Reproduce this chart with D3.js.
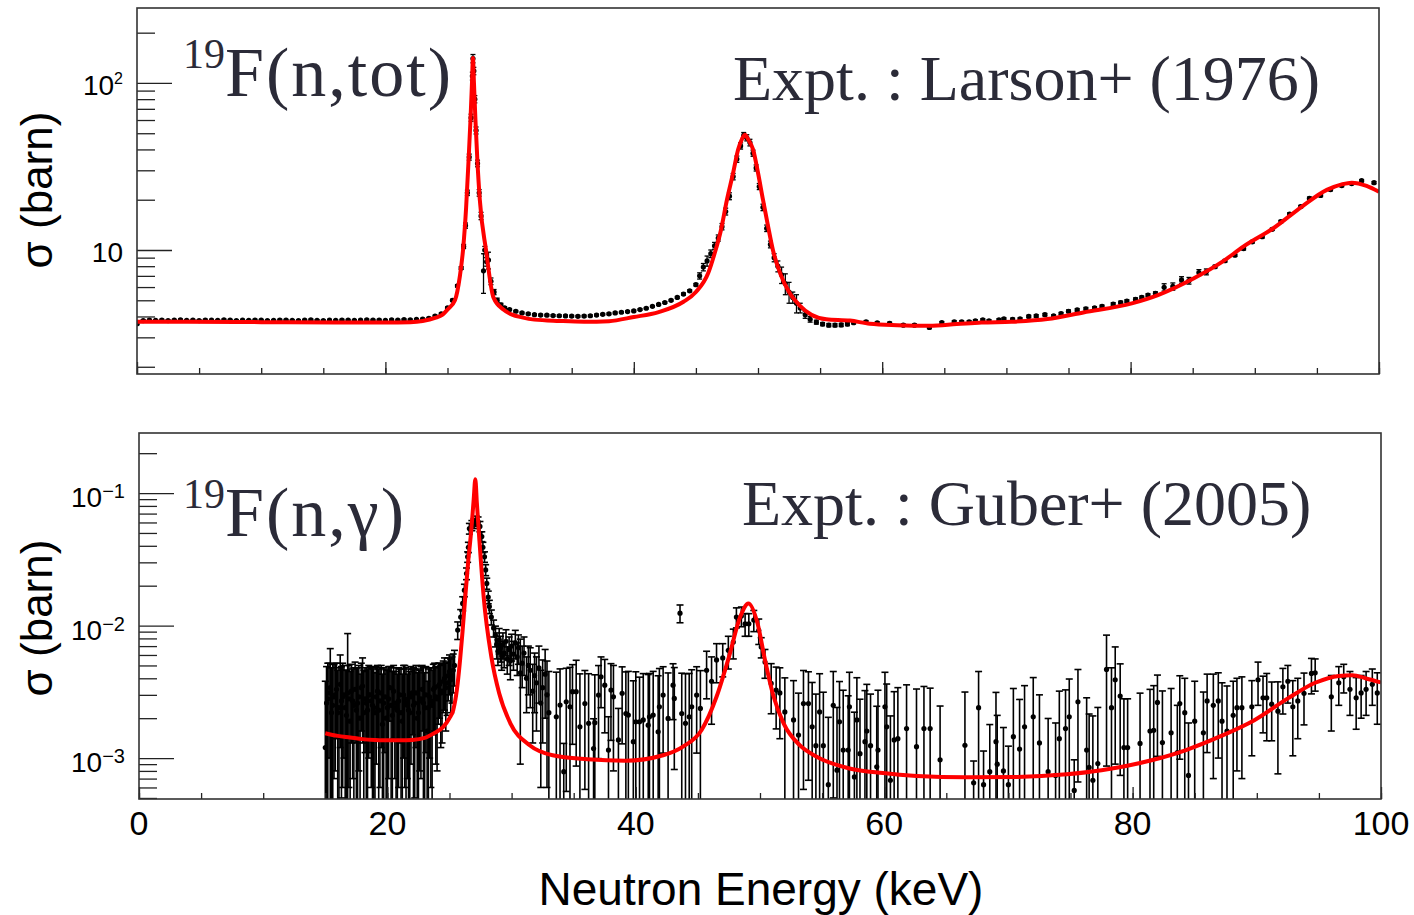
<!DOCTYPE html>
<html><head><meta charset="utf-8">
<script src="https://cdn.jsdelivr.net/npm/d3@7"></script>
<style>body{margin:0;background:#fff}</style>
</head><body>
<script>
// ---------------- DATA ----------------
// x axis
const xMajorTicks = [0, 20, 40, 60, 80, 100];
const xMinorTicks = [0,5,10,15,20,25,30,35,40,45,50,55,60,65,70,75,80,85,90,95,100];
const xTickLabels = ["0", "20", "40", "60", "80", "100"];

// top panel: 19F(n,tot)  Larson+ (1976)
const topExpE = [0,0.5,1,1.5,2,2.5,3,3.5,4,4.5,5,5.5,6,6.5,7,7.5,8,8.5,9,9.5,10,10.5,11,11.5,12,12.5,13,13.5,14,14.5,15,15.5,16,16.5,17,17.5,18,18.5,19,19.5,20,20.5,21,21.5,22,22.5,23,23.5,24,
 24.5,25.0,25.4,25.8,26.1,26.3,26.45,26.6,26.75,26.9,27.0,27.05,27.12,27.2,27.3,27.42,27.55,27.7,27.9,28.0,28.15,28.3,28.5,28.75,29.0,29.3,29.6,30.0,
 30.5,31,31.5,32,32.5,33,33.5,34,34.5,35,35.5,36,36.5,37,37.5,38,38.5,39,39.5,40,40.5,41,41.5,42,42.5,43,43.5,44,44.5,45,
 45.3,45.6,45.9,46.2,46.5,46.8,47.1,47.4,47.7,48.0,48.3,48.6,48.85,49.1,49.35,49.6,49.85,50.1,
 50.4,50.7,51.0,51.3,51.6,51.9,52.2,52.5,52.8,53.1,53.4,53.8,54.2,54.7,55.2,55.7,56.2,56.7,57.2,
 57.7,58.7,59.6,60.6,61.7,62.6,63.8,64.8,65.8,66.4,67.0,67.5,68.1,68.6,69.4,69.8,70.5,71.1,71.8,72.4,
 73.1,73.8,74.4,75.0,75.7,76.4,77.1,77.7,78.6,79.2,79.7,80.4,80.9,81.4,82.0,82.7,83.4,84.1,84.7,85.5,
 86.1,86.8,87.6,88.4,89.1,89.8,90.6,91.4,92.1,92.8,93.7,94.4,95.3,96.1,97.0,97.8,98.6,99.6];
const topExpSig = [3.62,3.78,3.80,3.79,3.81,3.78,3.80,3.82,3.79,3.80,3.78,3.81,3.80,3.79,3.82,3.80,3.78,3.80,3.79,3.81,3.80,3.78,3.79,3.81,3.80,3.79,3.78,3.80,3.82,3.79,3.78,3.80,3.79,3.81,3.80,3.79,3.80,3.82,3.80,3.81,3.79,3.82,3.80,3.83,3.82,3.84,3.86,3.90,4.02,
 4.15,4.5,5.0,6.1,7.8,10.5,14,22,36,62,110,140,118,80,52,33,22,16,7.5,10,8.5,8.7,6.5,5.6,5.0,4.7,4.5,4.4,
 4.3,4.2,4.15,4.1,4.08,4.07,4.05,4.04,4.03,4.02,4.01,4.02,4.04,4.08,4.12,4.15,4.2,4.24,4.28,4.32,4.4,4.48,4.6,4.72,4.85,5.0,5.2,5.45,5.7,6.2,
 7.0,7.9,8.6,9.5,10.6,11.8,13.8,17,21,27.5,35,42,48.5,47,44,38,31,24,
 18,13.5,10.8,9.0,8.0,7.1,6.3,5.6,5.2,4.8,4.5,4.1,3.85,3.7,3.6,3.55,3.55,3.56,3.6,
 3.67,3.72,3.66,3.64,3.55,3.55,3.44,3.67,3.72,3.72,3.72,3.77,3.82,3.77,3.82,3.87,3.85,3.87,4.0,4.03,
 4.1,4.03,4.16,4.3,4.38,4.45,4.5,4.6,4.75,4.85,4.95,5.07,5.2,5.37,5.5,5.98,6.05,6.62,6.55,7.33,
 7.4,7.95,8.62,9.3,10.2,11.2,12.0,13.3,14.8,16.4,18.2,20.4,21.2,23.0,24.3,25.0,26.0,25.3];
const topExpErr = [0.05,0.04,0.04,0.04,0.04,0.04,0.04,0.04,0.04,0.04,0.04,0.04,0.04,0.04,0.04,0.04,0.04,0.04,0.04,0.04,0.04,0.04,0.04,0.04,0.04,0.04,0.04,0.04,0.04,0.04,0.04,0.04,0.04,0.04,0.04,0.04,0.04,0.04,0.04,0.04,0.04,0.04,0.04,0.04,0.04,0.04,0.04,0.05,0.05,
 0.05,0.06,0.07,0.1,0.15,0.3,0.5,0.8,1.5,3,6,8,6,4,2.5,1.5,1,0.8,2.0,0.5,0.5,1.0,0.3,0.2,0.15,0.1,0.08,0.06,
 0.05,0.05,0.05,0.05,0.05,0.05,0.05,0.05,0.05,0.05,0.05,0.05,0.05,0.05,0.05,0.05,0.05,0.05,0.05,0.05,0.05,0.05,0.05,0.06,0.06,0.06,0.07,0.08,0.08,0.1,
 0.3,0.4,0.6,0.5,0.5,0.5,0.6,0.8,1,1.2,1.5,1.8,2,2,2,1.6,1.3,1,
 0.8,0.6,0.5,0.5,0.6,0.8,0.9,0.8,0.4,0.6,0.3,0.2,0.15,0.1,0.08,0.08,0.08,0.08,0.08,
 0.06,0.06,0.06,0.06,0.06,0.06,0.06,0.06,0.06,0.06,0.06,0.06,0.06,0.06,0.06,0.06,0.06,0.06,0.07,0.07,
 0.07,0.07,0.07,0.08,0.08,0.08,0.08,0.08,0.09,0.09,0.09,0.1,0.1,0.1,0.12,0.3,0.3,0.3,0.3,0.3,
 0.3,0.15,0.15,0.15,0.2,0.2,0.2,0.2,0.25,0.3,0.3,0.35,0.35,0.4,0.4,0.4,0.4,0.4];
const topFitE = [0,4,8,12,16,20,22,23,24,24.6,25.0,25.6,26.0,26.25,26.5,26.7,26.85,26.97,27.05,27.13,27.25,27.4,27.6,28.1,28.7,29.5,30.2,31,32,34,36,38,40,42,44,45,46,46.5,47,47.5,48,48.4,48.7,48.95,49.2,49.6,50.0,50.4,50.8,51.2,51.8,52.5,53.3,54.3,55.5,57.4,59,61.2,63.8,66,68,70.4,73.3,76.2,80.1,82.2,85.1,87.4,89.1,91.5,93.8,95.8,97,97.8,99.0,100];
const topFitSig = [3.72,3.72,3.71,3.69,3.68,3.68,3.70,3.76,3.92,4.1,4.4,5.0,7.0,10,18,35,60,100,141,100,60,35,20,10,5.2,4.4,4.1,3.95,3.83,3.76,3.72,3.75,3.97,4.25,4.9,5.6,7.3,9.5,13,20,29,40,46,49,46,40,29,20,14,10,7.2,5.6,4.7,4.1,3.85,3.78,3.62,3.55,3.52,3.6,3.68,3.72,3.86,4.23,4.79,5.37,6.77,8.51,10.5,13.5,18.2,22.9,24.7,25.3,24.2,22.3];

// bottom panel: 19F(n,gamma)  Guber+ (2005)
const botExpE = [15.0,15.2,15.4,15.6,15.8,16.0,16.2,16.4,16.6,16.8,17.0,17.2,17.4,17.6,17.8,18.0,18.2,18.4,18.6,18.8,19.0,19.2,19.4,19.6,19.8,20.0,20.2,20.4,20.6,20.8,21.0,21.2,21.4,21.6,21.8,22.0,22.2,22.4,22.6,22.8,23.0,23.2,23.4,23.6,23.8,24.0,24.2,24.4,24.6,24.8,25.0,25.2,25.4,
 25.66,25.9,26.06,26.2,26.37,26.46,26.52,26.6,26.8,26.98,27.15,27.3,27.45,27.6,27.69,27.82,27.91,28.0,28.12,28.21,28.37,
 28.55,28.7,28.8,28.9,29.0,29.1,29.2,29.3,29.4,29.55,29.65,29.8,29.9,30.0,30.15,30.3,30.45,30.55,30.7,30.85,31.0,31.2,31.35,31.5,31.7,31.85,32.0,32.2,32.35,32.5,32.7,32.85,33.0,
 33.6,33.9,34.2,34.4,34.7,34.9,35.2,35.5,35.9,36.2,36.6,36.7,37.0,37.2,37.5,37.8,38.0,38.2,38.6,38.9,39.2,39.4,39.8,40.0,40.3,40.6,41.0,41.1,41.4,41.8,41.9,42.2,42.6,43.0,43.1,43.56,43.7,44.0,44.3,44.5,44.9,45.2,
 45.7,46.1,46.5,47.0,47.45,47.85,48.1,48.5,48.8,49.1,49.5,49.9,
 50.1,50.4,50.9,51.3,51.6,52.0,52.7,53.1,53.5,53.9,54.2,54.5,54.8,55.1,55.5,55.9,56.2,56.4,56.7,57.1,57.2,57.6,57.8,58.05,58.45,58.6,58.9,59.4,59.5,60.06,60.2,60.5,60.8,61.1,61.8,62.6,63.2,63.7,64.5,66.5,67.2,67.6,68.0,68.5,69.0,69.1,69.6,70.0,70.4,70.9,71.3,72.0,72.5,73.2,73.8,74.1,74.6,74.9,75.3,75.6,76.3,76.5,76.8,77.2,
 77.9,78.3,78.6,79.0,79.3,79.6,80.6,81.4,81.7,82.0,82.4,83.1,83.6,83.8,84.2,84.5,85.0,85.7,86.0,86.5,86.9,87.2,87.6,88.1,88.4,88.8,89.6,90.1,90.5,90.8,91.2,91.7,92.1,92.5,92.9,93.3,93.8,94.4,94.7,96.0,96.6,97.0,97.5,98.0,98.4,98.8,99.3,99.7,
 15.1,15.3,15.5,15.7,15.9,16.1,16.3,16.5,16.7,16.9,17.1,17.3,17.5,17.7,17.9,18.1,18.3,18.5,18.7,18.9,19.1,19.3,19.5,19.7,19.9,20.1,20.3,20.5,20.7,20.9,21.1,21.3,21.5,21.7,21.9,22.1,22.3,22.5,22.7,22.9,23.1,23.3,23.5,23.7,23.9,24.1,24.3,24.5,24.7,24.9,25.1,25.3];
const botExpSig = [1.2e-3,2.8e-3,3.4e-3,2.5e-3,3.0e-3,2.2e-3,3.6e-3,2.9e-3,2.4e-3,3.1e-3,1.9e-3,2.7e-3,3.3e-3,2.6e-3,2.0e-3,3.5e-3,2.8e-3,2.3e-3,3.0e-3,2.5e-3,2.2e-3,3.2e-3,2.7e-3,1.8e-3,2.9e-3,2.4e-3,3.4e-3,2.1e-3,2.6e-3,2.3e-3,3.0e-3,1.9e-3,2.8e-3,2.5e-3,2.2e-3,3.1e-3,2.6e-3,2.0e-3,2.7e-3,3.3e-3,2.4e-3,1.6e-3,2.9e-3,2.5e-3,3.4e-3,2.8e-3,3.6e-3,3.2e-3,4.0e-3,3.7e-3,4.5e-3,4.2e-3,5.0e-3,
 9.25e-3,0.0116,0.0147,0.0185,0.0247,0.033,0.039,0.054,0.057,0.059,0.062,0.061,0.056,0.047,0.039,0.033,0.0263,0.0208,0.0164,0.0139,0.0116,
 9.6e-3,8.4e-3,7.2e-3,6.4e-3,7.8e-3,6.8e-3,5.9e-3,7.2e-3,6.2e-3,7.6e-3,5.6e-3,6.6e-3,5.4e-3,7.0e-3,6.1e-3,7.4e-3,5.8e-3,6.8e-3,4.4e-3,5.2e-3,6.2e-3,4.0e-3,5.0e-3,4.6e-3,3.2e-3,4.2e-3,3.7e-3,4.8e-3,2.6e-3,3.4e-3,4.3e-3,3.0e-3,2.2e-3,
 2.05e-3,2.51e-3,0.79e-3,2.66e-3,2.44e-3,3.17e-3,3.17e-3,1.72e-3,2.58e-3,1.83e-3,1.18e-3,1.85e-3,2.99e-3,4.1e-3,3.55e-3,1.15e-3,3.26e-3,2.9e-3,1.37e-3,3.08e-3,2.17e-3,2.11e-3,1.33e-3,1.88e-3,1.88e-3,1.94e-3,1.77e-3,2.05e-3,2.11e-3,1.58e-3,2.44e-3,2.99e-3,1.99e-3,3.55e-3,2.82e-3,12.4e-3,2.17e-3,1.83e-3,2.05e-3,2.44e-3,2.99e-3,2.37e-3,
 4.6e-3,3.8e-3,5.5e-3,5.7e-3,6.5e-3,7.5e-3,11.6e-3,11.8e-3,10.3e-3,10.3e-3,11.0e-3,9.2e-3,
 6.9e-3,5.3e-3,3.66e-3,3.26e-3,3.1e-3,2.23e-3,1.94e-3,1.49e-3,2.58e-3,2.58e-3,1.72e-3,1.24e-3,2.23e-3,1.24e-3,0.63e-3,2.5e-3,0.81e-3,1.88e-3,1.15e-3,1.15e-3,2.44e-3,0.72e-3,1.94e-3,1.08e-3,1.33e-3,1.6e-3,1.24e-3,0.86e-3,1.15e-3,2.44e-3,1.72e-3,0.68e-3,1.37e-3,1.4e-3,1.67e-3,1.22e-3,1.67e-3,1.67e-3,0.97e-3,1.25e-3,0.65e-3,2.4e-3,0.63e-3,0.79e-3,1.33e-3,0.9e-3,0.8e-3,0.63e-3,1.45e-3,1.17e-3,1.72e-3,2.05e-3,1.3e-3,0.79e-3,0.74e-3,1.4e-3,1.67e-3,2.05e-3,0.57e-3,2.66e-3,1.15e-3,0.85e-3,0.68e-3,0.91e-3,
 4.67e-3,2.4e-3,3.9e-3,2.94e-3,1.2e-3,1.2e-3,1.29e-3,1.6e-3,1.62e-3,2.63e-3,1.31e-3,1.55e-3,1.1e-3,2.58e-3,2.2e-3,0.74e-3,1.9e-3,1.55e-3,2.7e-3,2.5e-3,2.7e-3,1.9e-3,1.6e-3,2.1e-3,2.4e-3,2.4e-3,2.44e-3,3.9e-3,2.85e-3,2.85e-3,2.55e-3,2.26e-3,3.45e-3,3.8e-3,2.44e-3,2.7e-3,3.08e-3,4.35e-3,4.4e-3,2.9e-3,3.7e-3,4.1e-3,3.3e-3,2.85e-3,3.1e-3,3.3e-3,3.6e-3,3.1e-3,
 2.6e-3,3.1e-3,2.2e-3,2.9e-3,3.3e-3,2.4e-3,2.7e-3,3.0e-3,2.1e-3,2.8e-3,3.2e-3,2.5e-3,2.3e-3,2.9e-3,3.4e-3,2.2e-3,2.6e-3,3.0e-3,2.7e-3,2.4e-3,2.9e-3,2.3e-3,3.1e-3,2.6e-3,2.0e-3,2.8e-3,2.5e-3,3.2e-3,2.4e-3,2.7e-3,2.2e-3,3.0e-3,2.6e-3,2.3e-3,2.9e-3,2.5e-3,3.1e-3,2.2e-3,2.8e-3,2.6e-3,3.0e-3,2.4e-3,2.7e-3,3.3e-3,2.9e-3,3.5e-3,3.1e-3,3.8e-3,3.4e-3,4.2e-3,3.9e-3,4.6e-3];
const botExpErr = [2.6e-3,2.4e-3,3.3e-3,2.6e-3,2.2e-3,2.4e-3,2.4e-3,2.3e-3,2.2e-3,5.6e-3,2.6e-3,2.0e-3,2.0e-3,2.2e-3,2.3e-3,2.2e-3,1.7e-3,2.4e-3,1.9e-3,2.3e-3,2.2e-3,1.8e-3,2.1e-3,2.5e-3,1.8e-3,2.2e-3,1.5e-3,2.4e-3,1.9e-3,2.0e-3,1.7e-3,2.4e-3,2.2e-3,1.8e-3,2.3e-3,1.6e-3,2.1e-3,2.4e-3,1.9e-3,1.7e-3,2.0e-3,2.2e-3,1.9e-3,2.1e-3,1.8e-3,2.0e-3,1.6e-3,1.9e-3,1.7e-3,1.6e-3,1.5e-3,1.6e-3,1.5e-3,
 1.4e-3,1.6e-3,1.8e-3,2.0e-3,2.5e-3,3e-3,3.5e-3,5e-3,5e-3,5e-3,5e-3,5e-3,5e-3,4e-3,3.5e-3,3e-3,2.5e-3,2e-3,1.8e-3,1.6e-3,1.5e-3,
 1.4e-3,1.5e-3,1.6e-3,1.4e-3,1.7e-3,1.5e-3,1.3e-3,1.6e-3,1.4e-3,1.7e-3,1.3e-3,1.6e-3,1.5e-3,1.6e-3,1.5e-3,1.8e-3,1.6e-3,1.7e-3,3.5e-3,1.8e-3,2.0e-3,1.8e-3,2.0e-3,2.2e-3,1.9e-3,2.0e-3,2.1e-3,2.2e-3,2.0e-3,2.1e-3,2.3e-3,2.4e-3,2.3e-3,
 2.4e-3,2.2e-3,0.5e-3,2.1e-3,2.4e-3,1.9e-3,2.3e-3,2.6e-3,2.0e-3,2.5e-3,0.8e-3,2.4e-3,2.0e-3,1.7e-3,2.0e-3,0.9e-3,1.9e-3,2.1e-3,1.0e-3,1.8e-3,2.3e-3,2.4e-3,2.5e-3,2.6e-3,2.2e-3,2.4e-3,2.5e-3,2.3e-3,2.4e-3,2.6e-3,2.3e-3,1.9e-3,2.4e-3,1.6e-3,2.0e-3,1.9e-3,2.2e-3,2.5e-3,2.3e-3,2.2e-3,1.9e-3,2.2e-3,
 1.8e-3,2.0e-3,1.8e-3,1.6e-3,1.8e-3,1.9e-3,2.0e-3,2.0e-3,2.0e-3,2.0e-3,2.0e-3,2.0e-3,
 1.2e-3,1.3e-3,1.5e-3,1.6e-3,1.7e-3,1.8e-3,1.9e-3,1.6e-3,2.0e-3,1.9e-3,2.0e-3,1.8e-3,2.1e-3,1.9e-3,1.4e-3,2.0e-3,1.6e-3,1.9e-3,2.1e-3,1.8e-3,2.0e-3,1.5e-3,2.1e-3,1.7e-3,1.9e-3,2.0e-3,1.8e-3,1.6e-3,2.1e-3,2.0e-3,1.9e-3,1.4e-3,1.8e-3,2.0e-3,1.9e-3,2.1e-3,1.8e-3,1.7e-3,1.5e-3,1.9e-3,0.3e-3,2.1e-3,0.5e-3,1.0e-3,1.8e-3,1.2e-3,0.9e-3,0.6e-3,1.9e-3,1.6e-3,1.8e-3,2.0e-3,1.7e-3,1.2e-3,1.1e-3,1.8e-3,1.6e-3,1.9e-3,0.4e-3,2.0e-3,1.7e-3,1.3e-3,1.4e-3,1.5e-3,
 3.8e-3,2.4e-3,3.0e-3,2.2e-3,1.6e-3,1.6e-3,1.8e-3,1.7e-3,1.9e-3,1.6e-3,1.9e-3,1.8e-3,1.4e-3,1.6e-3,1.8e-3,1.1e-3,1.9e-3,1.6e-3,1.6e-3,1.8e-3,1.7e-3,1.8e-3,1.9e-3,1.7e-3,1.6e-3,1.7e-3,1.4e-3,1.4e-3,1.3e-3,1.5e-3,1.2e-3,1.5e-3,1.3e-3,1.2e-3,1.4e-3,1.3e-3,1.3e-3,1.3e-3,1.2e-3,1.3e-3,1.2e-3,1.0e-3,1.2e-3,1.2e-3,1.1e-3,1.2e-3,1.1e-3,1.3e-3,
 2.3e-3,2.1e-3,2.6e-3,2.2e-3,1.9e-3,2.4e-3,2.2e-3,2.0e-3,2.5e-3,2.2e-3,1.9e-3,2.3e-3,2.5e-3,2.1e-3,1.8e-3,2.4e-3,2.2e-3,2.0e-3,2.1e-3,2.3e-3,2.0e-3,2.4e-3,1.9e-3,2.2e-3,2.6e-3,2.1e-3,2.3e-3,1.8e-3,2.4e-3,2.1e-3,2.5e-3,2.0e-3,2.2e-3,2.4e-3,2.0e-3,2.3e-3,1.9e-3,2.5e-3,2.1e-3,2.2e-3,1.9e-3,2.3e-3,2.1e-3,1.8e-3,2.0e-3,1.7e-3,1.9e-3,1.6e-3,1.8e-3,1.5e-3,1.7e-3,1.5e-3];
const botFitE = [15,16,17,18,19,20,21,22,23,23.8,24.5,25.0,25.3,25.6,25.85,26.05,26.25,26.5,26.75,26.95,27.08,27.2,27.4,27.75,28.37,29.0,29.9,31.45,33.3,36.1,39.15,42.2,43.8,45.3,46.5,47.5,48.4,49.07,49.8,50.4,51.1,51.9,53.2,54.6,57.2,59.9,62.6,66.6,70.7,74.7,77.5,81.6,84.3,87.0,89.8,92.5,94.7,96.6,97.7,98.8,100];
const botFitSig = [1.54e-3,1.47e-3,1.43e-3,1.39e-3,1.37e-3,1.36e-3,1.36e-3,1.37e-3,1.42e-3,1.55e-3,1.72e-3,2.0e-3,2.3e-3,3.3e-3,5.5e-3,9.0e-3,0.0156,0.030,0.052,0.090,0.127,0.085,0.045,0.0165,5.8e-3,3.08e-3,1.83e-3,1.25e-3,1.05e-3,0.98e-3,0.955e-3,1.05e-3,1.22e-3,1.63e-3,2.9e-3,5.8e-3,0.0116,0.0147,0.0104,5.5e-3,2.9e-3,1.83e-3,1.25e-3,1.02e-3,0.835e-3,0.77e-3,0.733e-3,0.715e-3,0.72e-3,0.755e-3,0.81e-3,0.966e-3,1.15e-3,1.45e-3,1.93e-3,2.82e-3,3.7e-3,4.17e-3,4.22e-3,3.99e-3,3.72e-3];

// y tick labels
const topYLabels = [{v: 10, base: "10", sup: ""}, {v: 100, base: "10", sup: "2"}];
const botYLabels = [{v: 1e-1, base: "10", sup: "\u22121"}, {v: 1e-2, base: "10", sup: "\u22122"}, {v: 1e-3, base: "10", sup: "\u22123"}];

// ---------------- DRAW ----------------
const W = 1414, H = 915;
const SANS = '"Liberation Sans", Arial, Helvetica, sans-serif';
const SERIF = '"Liberation Serif", "Times New Roman", serif';
const TXT = '#2b2b38';

const svg = d3.select('body').append('svg').attr('width', W).attr('height', H);
svg.append('rect').attr('width', W).attr('height', H).attr('fill', '#fff');
const defs = svg.append('defs');

const topX = d3.scaleLinear().domain([0, 100]).range([137, 1379]);
const topY = d3.scaleLog().domain([1.81, 281]).range([374, 8]);
const botX = d3.scaleLinear().domain([0, 100]).range([139, 1381]);
const botY = d3.scaleLog().domain([4.91e-4, 0.284]).range([799, 433]);

function panel(id, x, y, E, S, Err, fE, fS, o) {
  const [x0, x1] = x.range();
  const [y1, y0] = y.range();
  defs.append('clipPath').attr('id', id).append('rect')
    .attr('x', x0).attr('y', y0).attr('width', x1 - x0).attr('height', y1 - y0);
  const g = svg.append('g').attr('clip-path', `url(#${id})`);
  const pts = E.map((e, i) => ({ e, s: S[i], err: Err[i] }));
  const eb = g.append('g').attr('stroke', '#000').attr('stroke-width', o.ebw).attr('fill', 'none');
  pts.forEach(p => {
    const px = x(p.e);
    const hi = p.s + p.err, lo = p.s - p.err;
    const yh = y(hi);
    const yl = lo > 0 ? y(lo) : y1 + 30;
    eb.append('line').attr('x1', px).attr('x2', px).attr('y1', yh).attr('y2', yl);
    eb.append('line').attr('x1', px - o.cap).attr('x2', px + o.cap).attr('y1', yh).attr('y2', yh);
    if (lo > 0) eb.append('line').attr('x1', px - o.cap).attr('x2', px + o.cap).attr('y1', yl).attr('y2', yl);
  });
  g.append('g').selectAll('circle').data(pts).join('circle')
    .attr('cx', d => x(d.e)).attr('cy', d => y(d.s)).attr('r', o.r).attr('fill', '#000');
  const line = d3.line().x(d => x(d[0])).y(d => y(d[1])).curve(d3.curveMonotoneX);
  g.append('path').datum(fE.map((e, i) => [e, fS[i]])).attr('d', line)
    .attr('fill', 'none').attr('stroke', '#ff0000').attr('stroke-width', 4).attr('stroke-linejoin', 'round');

  // ticks
  const all = y.ticks();
  const isMaj = v => Math.abs(Math.log10(v) - Math.round(Math.log10(v))) < 1e-6;
  const maj = all.filter(isMaj), mnr = all.filter(v => !isMaj(v));
  const tickStyle = sel => { sel.select('.domain').remove(); sel.selectAll('line').attr('stroke', '#222').attr('stroke-width', 1.3); sel.selectAll('text').remove(); };
  svg.append('g').attr('transform', `translate(${x0},0)`).call(d3.axisRight(y).tickValues(mnr).tickSize(18).tickFormat('')).call(tickStyle);
  svg.append('g').attr('transform', `translate(${x0},0)`).call(d3.axisRight(y).tickValues(maj).tickSize(35).tickFormat('')).call(tickStyle);
  svg.append('g').attr('transform', `translate(0,${y1})`).call(d3.axisTop(x).tickValues(xMinorTicks).tickSize(6).tickFormat('')).call(tickStyle);
  svg.append('g').attr('transform', `translate(0,${y1})`).call(d3.axisTop(x).tickValues(xMajorTicks).tickSize(12).tickFormat('')).call(tickStyle);

  // frame
  svg.append('rect').attr('x', x0).attr('y', y0).attr('width', x1 - x0).attr('height', y1 - y0)
    .attr('fill', 'none').attr('stroke', '#333').attr('stroke-width', 1.6);

  // y labels
  o.labels.forEach(l => {
    const t = svg.append('text').attr('x', x0 - 14).attr('y', y(l.v) + o.lblDy)
      .attr('text-anchor', 'end').attr('font-family', SANS).attr('fill', '#000');
    t.append('tspan').attr('font-size', 28).text(l.base);
    if (l.sup) t.append('tspan').attr('font-size', o.supSize).attr('dy', -o.supRaise).text(l.sup);
  });

  // y title
  svg.append('text').attr('transform', `translate(52,${o.ytitleY}) rotate(-90)`)
    .attr('text-anchor', 'middle').attr('font-family', SANS).attr('font-size', 44).attr('fill', '#000')
    .text('\u03c3 (barn)');
}

panel('clipTop', topX, topY, topExpE, topExpSig, topExpErr, topFitE, topFitSig,
  { ebw: 1.3, cap: 2.5, r: 2.6, labels: topYLabels, lblDy: 12, supSize: 16, supRaise: 11, ytitleY: 190 });
panel('clipBot', botX, botY, botExpE, botExpSig, botExpErr, botFitE, botFitSig,
  { ebw: 1.6, cap: 3.5, r: 2.6, labels: botYLabels, lblDy: 14, supSize: 20, supRaise: 9, ytitleY: 618 });

// x tick labels (bottom panel)
xMajorTicks.forEach((v, i) => {
  svg.append('text').attr('x', botX(v)).attr('y', 835).attr('text-anchor', 'middle')
    .attr('font-family', SANS).attr('font-size', 34).attr('fill', '#000').text(xTickLabels[i]);
});
svg.append('text').attr('x', 761).attr('y', 905).attr('text-anchor', 'middle')
  .attr('font-family', SANS).attr('font-size', 46).attr('fill', '#000').text('Neutron Energy (keV)');

// panel titles
function reaction(x, y, main) {
  const t = svg.append('text').attr('x', x).attr('y', y).attr('font-family', SERIF).attr('fill', TXT);
  t.append('tspan').attr('font-size', 42).attr('dy', -28).text('19');
  t.append('tspan').attr('font-size', 70).attr('dy', 28).attr('letter-spacing', 2).text(main);
}
reaction(183, 96, 'F(n,tot)');
reaction(183, 536, 'F(n,\u03b3)');
svg.append('text').attr('x', 733).attr('y', 100).attr('font-family', SERIF).attr('font-size', 64)
  .attr('fill', TXT).text('Expt. : Larson+ (1976)');
svg.append('text').attr('x', 742).attr('y', 525).attr('font-family', SERIF).attr('font-size', 64)
  .attr('fill', TXT).text('Expt. : Guber+ (2005)');
</script>
</body></html>
